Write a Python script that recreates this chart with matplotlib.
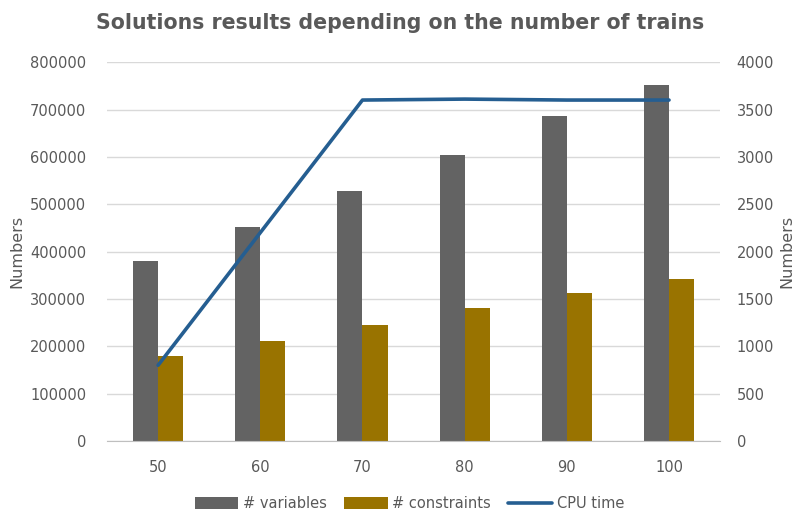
import matplotlib
matplotlib.use("Agg")
import matplotlib.pyplot as plt
import numpy as np

# valori
trains = ["50", "60", "70", "80", "90", "100"]
variables = [381000, 452000, 529000, 605000, 687000, 751000]
constraints = [180000, 212000, 244000, 280000, 313000, 342000]
cpu_time = [800, 2200, 3600, 3610, 3600, 3600]

plt.rcParams['font.family'] = ['DejaVu Sans']
text_col = '#595959'

fig = plt.figure(figsize=(8.01, 5.18), dpi=100)
ax = fig.add_axes([0.1336, 0.1486, 0.7654, 0.7314])
ax2 = ax.twinx()

x = np.arange(len(trains))
w = 0.245
ax.bar(x - w / 2, variables, w, color='#636363', label='# variables', zorder=2)
ax.bar(x + w / 2, constraints, w, color='#997300', label='# constraints', zorder=2)
ax2.plot(x, cpu_time, color='#255e91', lw=2.6, label='CPU time',
         solid_capstyle='round', zorder=3)

ax.set_xlim(-0.5, len(trains) - 0.5)
ax.set_ylim(0, 800000)
ax2.set_ylim(0, 4000)
ax.set_yticks(np.arange(0, 800001, 100000))
ax2.set_yticks(np.arange(0, 4001, 500))
ax.set_xticks(x)
ax.set_xticklabels(trains)

ax.grid(axis='y', color='#d9d9d9', lw=1, zorder=0)
ax.set_axisbelow(True)
for a in (ax, ax2):
    for s in a.spines.values():
        s.set_visible(False)
    a.tick_params(length=0, colors=text_col, labelsize=10.5)
ax.spines['bottom'].set_visible(True)
ax.spines['bottom'].set_color('#bfbfbf')
ax.tick_params(axis='y', pad=15)
ax.tick_params(axis='x', pad=14)
ax2.tick_params(axis='y', pad=12)

ax.set_ylabel('Numbers', color=text_col, fontsize=11.5, labelpad=4)
ax2.set_ylabel('Numbers', color=text_col, fontsize=11.5, labelpad=4)

fig.suptitle('Solutions results depending on the number of trains',
             x=0.5, y=0.975, fontsize=14.8, fontweight='bold', color=text_col)

h1, l1 = ax.get_legend_handles_labels()
h2, l2 = ax2.get_legend_handles_labels()
fig.legend(h1 + h2, l1 + l2, loc='center', bbox_to_anchor=(0.511, 0.028),
           ncol=3, frameon=False, fontsize=10.5, labelcolor=text_col,
           handlelength=3.0, handleheight=0.8, handletextpad=0.3, columnspacing=1.2)

fig.savefig('out.png', dpi=100)
